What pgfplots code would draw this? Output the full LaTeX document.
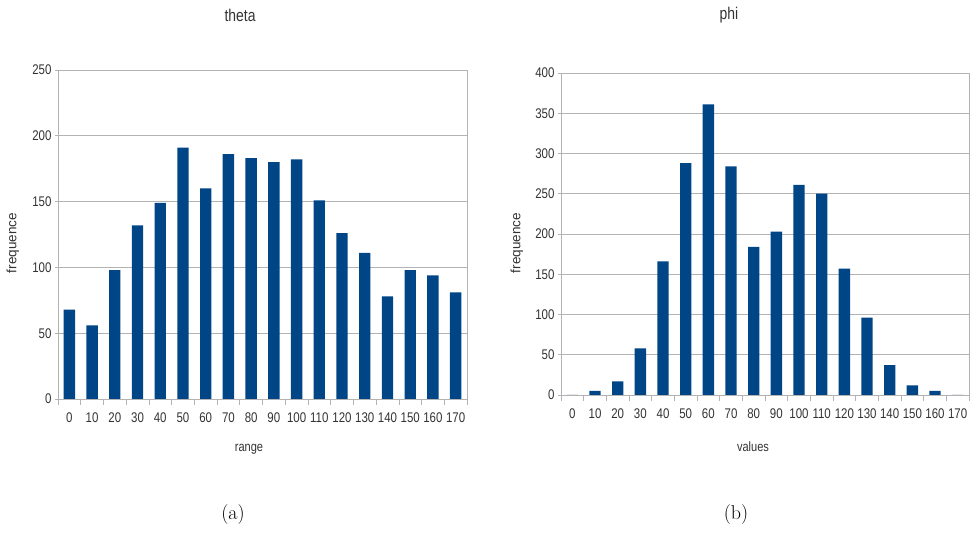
\documentclass[border=0pt]{standalone}
\usepackage{fontspec}
\usepackage{pgfplots}
\usepackage{pgfplotstable}
\pgfplotsset{compat=1.18}
\newfontfamily\lsans[FakeStretch=0.82]{Liberation Sans}
\newfontfamily\lsansn{Liberation Sans}
\definecolor{barblue}{HTML}{004586}
\definecolor{gridgray}{HTML}{B3B3B3}
\definecolor{txtgray}{HTML}{333333}

\pgfplotstableread{
x v
0 68
1 56
2 98
3 132
4 149
5 191
6 160
7 186
8 183
9 180
10 182
11 151
12 126
13 111
14 78
15 98
16 94
17 81
}\thetadata

\pgfplotstableread{
x v
0 0
1 5
2 17
3 58
4 166
5 288
6 361
7 284
8 184
9 203
10 261
11 250
12 157
13 96
14 37
15 12
16 5
17 0
}\phidata

\pgfplotsset{histo/.style={
  scale only axis,
  ybar, bar width=0.5,
  xmin=-0.5, xmax=17.5, ymin=0,
  xtick={0,...,17},
  xticklabels={0,10,20,30,40,50,60,70,80,90,100,110,120,130,140,150,160,170},
  minor xtick={-0.5,0.5,...,17.5},
  tick align=outside, tick pos=left,
  major x tick style={draw=none},
  major tick length=3pt, minor tick length=6pt,
  tick style={gridgray, line width=0.6pt},
  axis line style={gridgray, line width=0.6pt},
  ymajorgrids=true,
  major grid style={gridgray, line width=0.6pt},
  /pgf/number format/assume math mode=true,
  ticklabel style={font=\lsans\fontsize{14}{14}\selectfont, text=txtgray},
  xticklabel style={yshift=-7pt},
}}

\begin{document}
\begin{tikzpicture}[x=1pt,y=1pt]
\useasboundingbox (0,0) rectangle (972,533);

\begin{axis}[histo, at={(58pt,134pt)}, anchor=south west,
  width=409pt, height=329pt, ymax=250, ytick={0,50,...,250}]
\addplot[fill=barblue, draw=none] table[x=x, y=v] {\thetadata};
\end{axis}

\begin{axis}[histo, at={(561pt,138pt)}, anchor=south west,
  width=408pt, height=322pt, ymax=400, ytick={0,50,...,400}]
\addplot[fill=barblue, draw=none] table[x=x, y=v] {\phidata};
\end{axis}

\node[text=txtgray, font=\lsans\fontsize{17}{17}\selectfont] at (240,518) {theta};
\node[text=txtgray, font=\lsans\fontsize{17}{17}\selectfont] at (729,518) {phi};
\node[text=txtgray, rotate=90, font=\lsansn\fontsize{13.5}{13.5}\selectfont] at (13,290) {frequence};
\node[text=txtgray, rotate=90, font=\lsansn\fontsize{13.5}{13.5}\selectfont] at (517,290) {frequence};
\node[text=txtgray, font=\lsans\fontsize{13.5}{13.5}\selectfont] at (249,84) {range};
\node[text=txtgray, font=\lsans\fontsize{13.5}{13.5}\selectfont] at (753,86) {values};
\node[font=\fontsize{20}{20}\selectfont] at (233,18) {(a)};
\node[font=\fontsize{20}{20}\selectfont] at (736,18) {(b)};
\end{tikzpicture}
\end{document}
